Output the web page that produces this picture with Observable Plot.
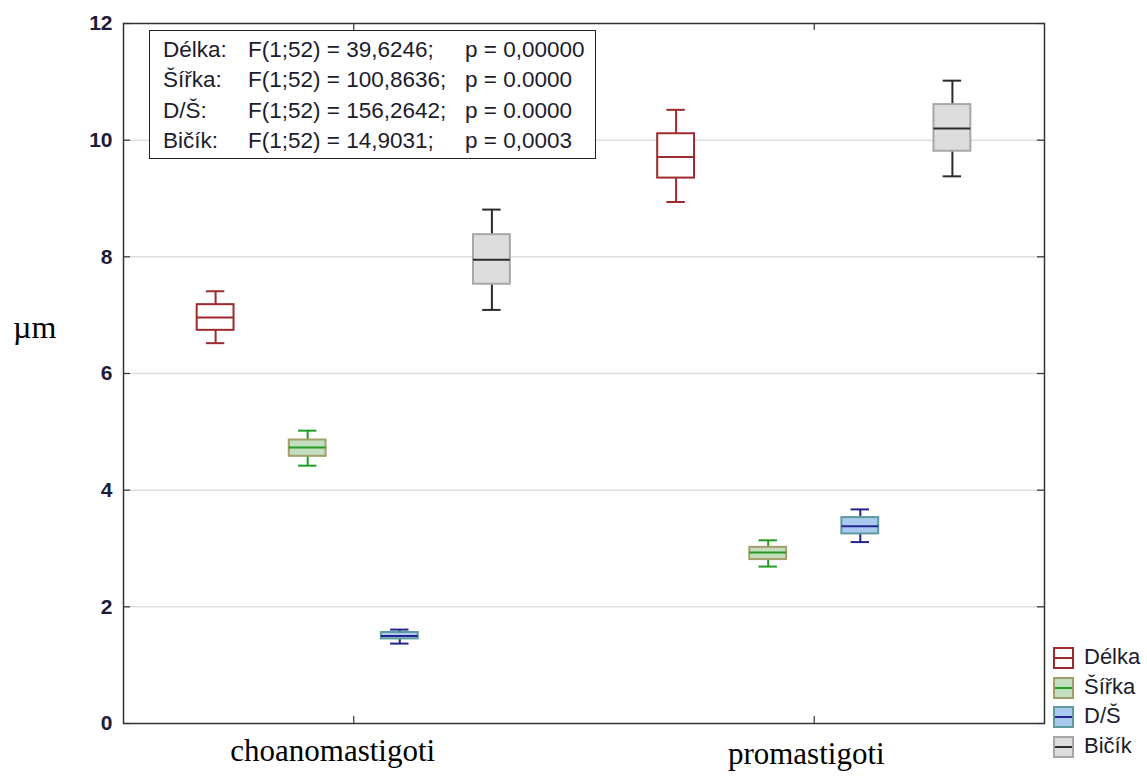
<!DOCTYPE html>
<html><head><meta charset="utf-8">
<script src="https://cdn.jsdelivr.net/npm/d3@7"></script>
<script src="https://cdn.jsdelivr.net/npm/@observablehq/plot@0.6"></script>
<style>
body{margin:0;background:#fff;}
#wrap{position:relative;width:1147px;height:778px;font-family:"Liberation Sans",Arial,sans-serif;color:#1c1c2e;}
#wrap svg{position:absolute;left:0;top:0;}
.ann{position:absolute;left:149px;top:30px;width:445px;height:127px;border:1.5px solid #222;background:#fff;font-size:22.5px;}
.ann span{position:absolute;white-space:pre;line-height:30px;}
.leg{position:absolute;left:1053px;top:645px;font-size:22px;width:94px;}
.leg .row{position:relative;height:29.5px;}
.leg .sw{position:absolute;left:0;top:2px;width:17px;height:18px;border:2px solid;}
.leg .sw i{position:absolute;left:0;right:0;top:8px;height:2px;}
.leg .lab{position:absolute;left:31px;top:0;line-height:24px;white-space:nowrap;}
.ylab{position:absolute;left:13px;top:309px;font-family:"Liberation Serif","Times New Roman",serif;font-size:32px;color:#000;}
</style></head><body><div id="wrap"></div>
<script>
const groups = ["choanomastigoti", "promastigoti"];
const series = ["Délka", "Šířka", "D/Š", "Bičík"];
// per group: values for Délka, Šířka, D/Š, Bičík
const minV = [[6.52, 4.42, 1.37, 7.09], [8.94, 2.69, 3.11, 9.38]];
const q1V  = [[6.74, 4.58, 1.45, 7.53], [9.35, 2.81, 3.25, 9.81]];
const medV = [[6.96, 4.73, 1.50, 7.95], [9.71, 2.93, 3.38, 10.20]];
const q3V  = [[7.18, 4.86, 1.56, 8.38], [10.11, 3.02, 3.53, 10.61]];
const maxV = [[7.41, 5.02, 1.61, 8.81], [10.52, 3.14, 3.67, 11.02]];
const yTicks = [0, 2, 4, 6, 8, 10, 12];
const gridTicks = [2, 4, 6, 8, 10];
const statLabels = ["Délka:", "Šířka:", "D/Š:", "Bičík:"];
const statF = ["F(1;52) = 39,6246;", "F(1;52) = 100,8636;", "F(1;52) = 156,2642;", "F(1;52) = 14,9031;"];
const statP = ["p = 0,00000", "p = 0.0000", "p = 0.0000", "p = 0,0003"];
const yLabel = "µm";

const strokeC = {"Délka": "#9d2a2c", "Šířka": "#229c22", "D/Š": "#24248e", "Bičík": "#2a2a2a"};
const fillC = {"Délka": "#ffffff", "Šířka": "#c3dfbf", "D/Š": "#aac9f0", "Bičík": "#dddddd"};
const borderC = {"Délka": "#9d2a2c", "Šířka": "#a59d6c", "D/Š": "#5f9a9c", "Bičík": "#a7a7a7"};

const rows = [];
groups.forEach((g, gi) => series.forEach((s, si) => rows.push({
  group: g, series: s, pos: gi * 5 + si - 1.5,
  min: minV[gi][si], q1: q1V[gi][si], med: medV[gi][si], q3: q3V[gi][si], max: maxV[gi][si]
})));
const gpos = groups.map((g, i) => ({g, pos: i * 5}));

const W = 1147, H = 778, ML = 123, MR = 103, MT = 23, MB = 55;
const fw = W - ML - MR, fh = H - MT - MB;

const chart = Plot.plot({
  width: W, height: H,
  marginLeft: ML, marginRight: MR, marginTop: MT, marginBottom: MB,
  style: {fontFamily: "'Liberation Sans', Arial, sans-serif", background: "#fff"},
  x: {type: "linear", domain: [-2.5, 7.5], axis: null},
  y: {domain: [0, 12], axis: null},
  color: {type: "identity"},
  marks: [
    Plot.ruleY(gridTicks, {stroke: "#dedede", strokeWidth: 1.5}),
    Plot.ruleX(rows, {x: "pos", y1: "min", y2: "max", stroke: d => strokeC[d.series], strokeWidth: 2}),
    Plot.ruleY(rows, {y: "max", x1: d => d.pos - 0.1, x2: d => d.pos + 0.1, stroke: d => strokeC[d.series], strokeWidth: 2}),
    Plot.ruleY(rows, {y: "min", x1: d => d.pos - 0.1, x2: d => d.pos + 0.1, stroke: d => strokeC[d.series], strokeWidth: 2}),
    Plot.rect(rows, {x1: d => d.pos - 0.2, x2: d => d.pos + 0.2, y1: "q1", y2: "q3", fill: d => fillC[d.series], stroke: d => borderC[d.series], strokeWidth: 2}),
    Plot.ruleY(rows, {y: "med", x1: d => d.pos - 0.2, x2: d => d.pos + 0.2, stroke: d => strokeC[d.series], strokeWidth: 2}),
    Plot.frame({stroke: "#333", strokeWidth: 1.5}),
    // inward ticks
    Plot.ruleY(yTicks, {stroke: "#333", strokeWidth: 1.2, insetRight: fw - 7}),
    Plot.ruleY(yTicks, {stroke: "#333", strokeWidth: 1.2, insetLeft: fw - 7}),
    Plot.ruleX(gpos, {x: "pos", stroke: "#333", strokeWidth: 1.2, insetTop: fh - 7}),
    Plot.ruleX(gpos, {x: "pos", stroke: "#333", strokeWidth: 1.2, insetBottom: fh - 7}),
    Plot.axisY(yTicks, {tickSize: 0, tickPadding: 11, fontSize: 21, fontWeight: 600, fill: "#1c1c3a", tickFormat: d => String(d)}),
    Plot.text(gpos.filter((d, i) => i === 0), {x: "pos", text: "g", frameAnchor: "bottom", dy: 37, dx: -21, fontSize: 31, fontFamily: "'Liberation Serif', 'Times New Roman', serif", fill: "#000"}),
    Plot.text(gpos.filter((d, i) => i === 1), {x: "pos", text: "g", frameAnchor: "bottom", dy: 40, dx: -8, fontSize: 31, fontFamily: "'Liberation Serif', 'Times New Roman', serif", fill: "#000"})
  ]
});

const wrap = document.getElementById("wrap");
wrap.appendChild(chart);

const yl = document.createElement("div");
yl.className = "ylab"; yl.textContent = yLabel;
wrap.appendChild(yl);

const ann = document.createElement("div");
ann.className = "ann";
statLabels.forEach((l, i) => {
  [[l, 13], [statF[i], 98], [statP[i], 315]].forEach(([t, x]) => {
    const s = document.createElement("span");
    s.textContent = t;
    s.style.left = x + "px";
    s.style.top = (4 + i * 30.4) + "px";
    ann.appendChild(s);
  });
});
wrap.appendChild(ann);

const leg = document.createElement("div");
leg.className = "leg";
series.forEach(s => {
  const r = document.createElement("div"); r.className = "row";
  const sw = document.createElement("div"); sw.className = "sw";
  sw.style.background = fillC[s]; sw.style.borderColor = borderC[s];
  const ln = document.createElement("i"); ln.style.background = strokeC[s];
  sw.appendChild(ln);
  const lb = document.createElement("div"); lb.className = "lab"; lb.textContent = s;
  r.appendChild(sw); r.appendChild(lb);
  leg.appendChild(r);
});
wrap.appendChild(leg);
</script>
</body></html>
